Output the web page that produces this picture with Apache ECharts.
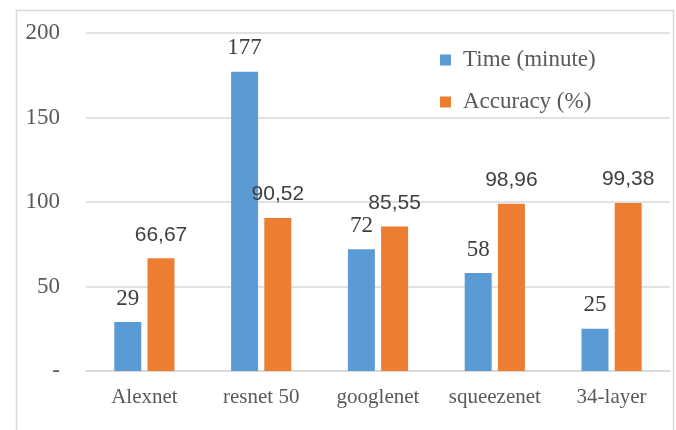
<!DOCTYPE html>
<html><head><meta charset="utf-8">
<script src="https://cdn.jsdelivr.net/npm/echarts@6/dist/echarts.min.js"></script>
<style>html,body{margin:0;padding:0;background:#fff}#c{width:676px;height:430px}</style>
</head><body><div id="c"></div>
<script>
const categories = ['Alexnet', 'resnet 50', 'googlenet', 'squeezenet', '34-layer'];
const timeValues = [29, 177, 72, 58, 25];
const accuracyValues = [66.67, 90.52, 85.55, 98.96, 99.38];
const yTicks = [0, 50, 100, 150, 200];
const seriesNames = ['Time (minute)', 'Accuracy (%)'];

const serif = '"Liberation Serif", "Times New Roman", serif';
const sans = '"Liberation Sans", Arial, sans-serif';
const chart = echarts.init(document.getElementById('c'), null, {renderer: 'canvas'});
chart.setOption({
  animation: false,
  backgroundColor: '#fff',
  graphic: [{
    type: 'rect', left: 14, top: 8, z: -1,
    shape: {width: 657, height: 440},
    style: {fill: 'none', stroke: '#d9d9d9', lineWidth: 1.5}
  }],
  grid: {left: 86, right: 6, top: 33, bottom: 59},
  legend: {
    orient: 'vertical', left: 435, top: 43,
    icon: 'rect', itemWidth: 11, itemHeight: 11, itemGap: 18,
    data: seriesNames,
    textStyle: {fontFamily: serif, fontSize: 23, color: '#595959', lineHeight: 24, padding: [0, 0, 0, 7]}
  },
  xAxis: {
    type: 'category', data: categories,
    axisLine: {lineStyle: {color: '#d9d9d9', width: 1.5}},
    axisTick: {show: false},
    axisLabel: {interval: 0, fontFamily: serif, fontSize: 21, color: '#595959', margin: 16}
  },
  yAxis: {
    type: 'value', min: yTicks[0], max: yTicks[yTicks.length - 1], interval: 50,
    axisLine: {show: false}, axisTick: {show: false},
    splitLine: {lineStyle: {color: '#d9d9d9', width: 1.5}},
    axisLabel: {
      fontFamily: serif, fontSize: 23, color: '#595959', margin: 26,
      formatter: v => v === 0 ? '-' : String(v)
    }
  },
  series: [
    {
      name: seriesNames[0], type: 'bar', data: timeValues,
      barWidth: 27, barGap: '23%',
      itemStyle: {color: '#5b9bd5'},
      label: {show: true, position: 'top', distance: 12, fontFamily: serif, fontSize: 23, color: '#404040'}
    },
    {
      name: seriesNames[1], type: 'bar', data: accuracyValues,
      barWidth: 27,
      itemStyle: {color: '#ed7d31'},
      label: {show: true, position: 'top', distance: 13, fontFamily: sans, fontSize: 21, color: '#404040',
        formatter: p => p.value.toFixed(2).replace('.', ',')}
    }
  ]
});
</script></body></html>
